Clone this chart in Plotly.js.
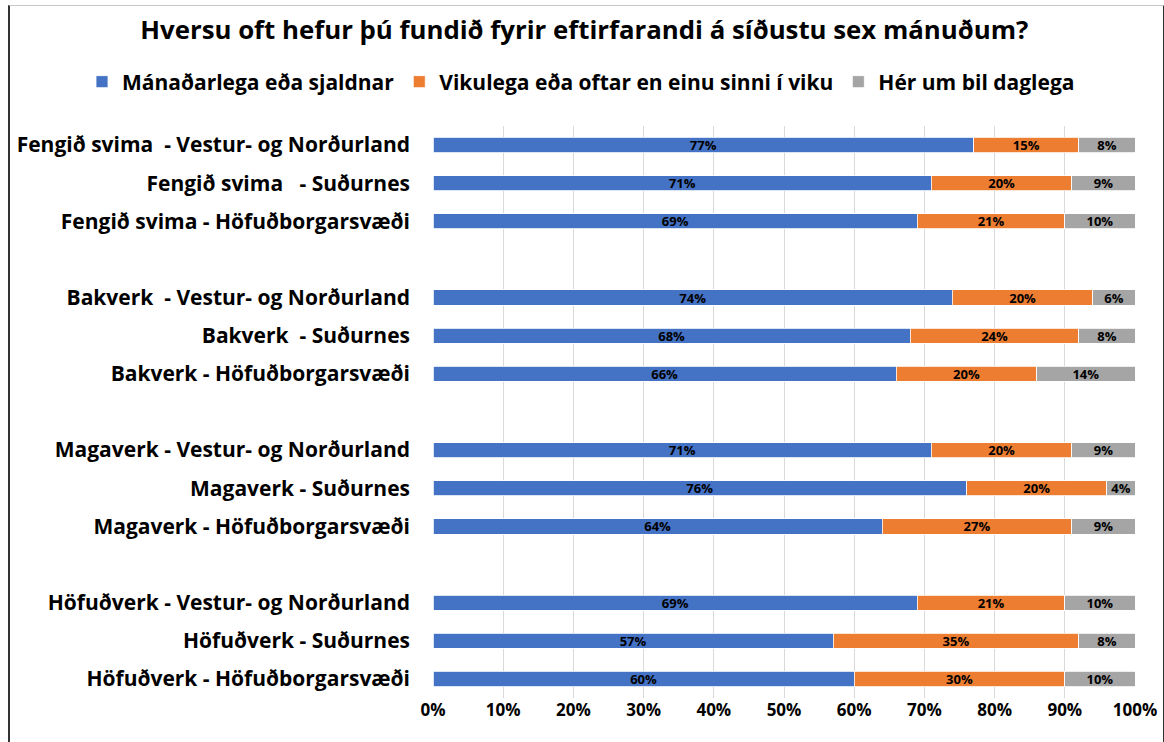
<!DOCTYPE html>
<html>
<head>
<meta charset="utf-8">
<script src="https://cdn.plot.ly/plotly-3.0.1.min.js"></script>
<style>
  html, body { margin: 0; padding: 0; background: #fff; }
  #wrap { position: relative; width: 1164px; height: 742px; overflow: hidden; }
  #chart { width: 1164px; height: 742px; }
  #frame { position: absolute; left: 8px; top: 5px; width: 1153px; height: 760px;
           border-top: 1px solid #c8c8c8; border-left: 2px solid #333; border-right: 2px solid #333;
           pointer-events: none; }
</style>
</head>
<body>
<div id="wrap">
<div id="chart"></div>
<div id="frame"></div>
</div>
<script>
const categories = [
  "Fengið svima  - Vestur- og Norðurland",
  "Fengið svima   - Suðurnes",
  "Fengið svima - Höfuðborgarsvæði",
  " ",
  "Bakverk  - Vestur- og Norðurland",
  "Bakverk  - Suðurnes",
  "Bakverk - Höfuðborgarsvæði",
  "  ",
  "Magaverk - Vestur- og Norðurland",
  "Magaverk - Suðurnes",
  "Magaverk - Höfuðborgarsvæði",
  "   ",
  "Höfuðverk - Vestur- og Norðurland",
  "Höfuðverk - Suðurnes",
  "Höfuðverk - Höfuðborgarsvæði"
];
const seriesNames = ["Mánaðarlega eða sjaldnar", "Vikulega eða oftar en einu sinni í viku", "Hér um bil daglega"];
const monthly = [77, 71, 69, null, 74, 68, 66, null, 71, 76, 64, null, 69, 57, 60];
const weekly  = [15, 20, 21, null, 20, 24, 20, null, 20, 20, 27, null, 21, 35, 30];
const daily   = [8, 9, 10, null, 6, 8, 14, null, 9, 4, 9, null, 10, 8, 10];
const colors = ["#4472C4", "#ED7D31", "#A5A5A5"];
const tickVals = [0, 10, 20, 30, 40, 50, 60, 70, 80, 90, 100];
const tickText = ["0%", "10%", "20%", "30%", "40%", "50%", "60%", "70%", "80%", "90%", "100%"];

const FONT = "'Open Sans', Lato, sans-serif";
const series = [monthly, weekly, daily];
const traces = series.map((vals, i) => ({
  type: "bar",
  orientation: "h",
  name: seriesNames[i],
  y: categories,
  x: vals,
  width: 0.4,
  marker: { color: colors[i], line: { color: "#ffffff", width: 0.8 } },
  text: vals.map(v => v == null ? "" : v + "%"),
  texttemplate: "%{text}",
  textposition: "inside",
  insidetextanchor: "middle",
  textangle: 0,
  constraintext: "none",
  textfont: { family: FONT, size: 13, weight: 700, color: "#000000" },
  hoverinfo: "skip"
}));

const layout = {
  width: 1164,
  height: 742,
  margin: { l: 433, r: 29, t: 126, b: 44 },
  paper_bgcolor: "#ffffff",
  plot_bgcolor: "#ffffff",
  barmode: "stack",
  font: { family: FONT, color: "#000000" },
  title: {
    text: "Hversu oft hefur þú fundið fyrir eftirfarandi á síðustu sex mánuðum?",
    font: { family: FONT, size: 25.8, weight: 700, color: "#000000" },
    xref: "container", x: 0.502, xanchor: "center",
    yref: "container", y: 1 - 30 / 742, yanchor: "middle"
  },
  legend: {
    orientation: "h",
    xref: "paper", x: (82 - 433) / 702, xanchor: "left",
    yref: "paper", y: (698 - 82) / 572, yanchor: "middle",
    font: { family: FONT, size: 21, weight: 700, color: "#000000" },
    itemwidth: 20,
    tracegroupgap: 0,
    traceorder: "normal"
  },
  xaxis: {
    range: [0, 100],
    tickvals: tickVals,
    ticktext: tickText,
    showgrid: true,
    gridcolor: "#d9d9d9",
    gridwidth: 1,
    zeroline: false,
    showline: false,
    ticks: "",
    tickfont: { family: FONT, size: 17, weight: 700, color: "#000000" },
    fixedrange: true
  },
  yaxis: {
    type: "category",
    categoryorder: "array",
    categoryarray: categories,
    autorange: "reversed",
    showgrid: false,
    zeroline: false,
    showline: false,
    ticks: "",
    ticklabelstandoff: 22,
    tickfont: { family: FONT, size: 21, weight: 700, color: "#000000" },
    fixedrange: true
  },
  showlegend: true
};

Plotly.newPlot("chart", traces, layout, { displayModeBar: false, staticPlot: true });
</script>
</body>
</html>
